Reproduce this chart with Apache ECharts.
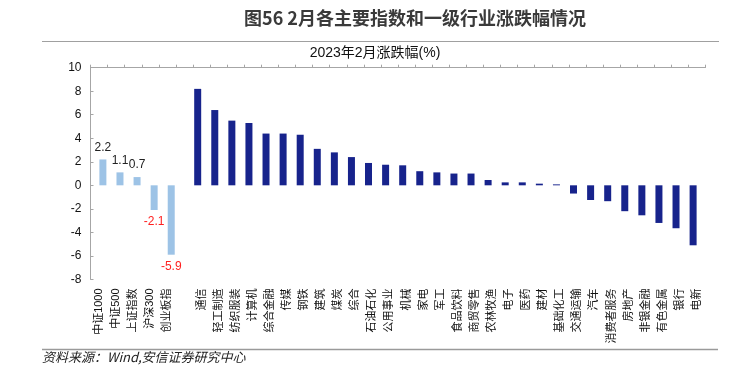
<!DOCTYPE html>
<html>
<head>
<meta charset="utf-8">
<script src="https://cdn.jsdelivr.net/npm/echarts@6/dist/echarts.min.js"></script>
<style>
html,body{margin:0;padding:0;background:#fff;}
#c{width:739px;height:381px;}
</style>
</head>
<body>
<div id="c"></div>
<script>
const indexNames = ['中证1000','中证500','上证指数','沪深300','创业板指'];
const indexValues = [2.2, 1.1, 0.7, -2.1, -5.9];
const industryNames = ['通信','轻工制造','纺织服装','计算机','综合金融','传媒','钢铁','建筑','煤炭','综合','石油石化','公用事业','机械','家电','军工','食品饮料','商贸零售','农林牧渔','电子','医药','建材','基础化工','交通运输','汽车','消费者服务','房地产','非银金融','有色金属','银行','电新'];
const industryValues = [8.2, 6.4, 5.5, 5.3, 4.4, 4.4, 4.3, 3.1, 2.8, 2.4, 1.9, 1.75, 1.7, 1.2, 1.1, 1.0, 1.0, 0.45, 0.25, 0.25, 0.14, 0.08, -0.7, -1.25, -1.35, -2.2, -2.55, -3.2, -3.65, -5.1];
const yTicks = {min: -8, max: 10, interval: 2};
const figTitle = '图56 2月各主要指数和一级行业涨跌幅情况';
const chartTitle = '2023年2月涨跌幅(%)';
const sourceNote = '资料来源：Wind,安信证券研究中心';

const categories = indexNames.concat(['']).concat(industryNames);
const gapCount = 1;
const idxData = indexValues.map(v => ({
  value: v,
  label: {position: v >= 0 ? 'top' : 'bottom', color: v >= 0 ? '#222' : '#FF1F1F'}
}));
for (let i = 0; i < gapCount + industryNames.length; i++) idxData.push(null);
const indData = [];
for (let i = 0; i < indexNames.length + gapCount; i++) indData.push(null);
industryValues.forEach(v => indData.push(v));

const chart = echarts.init(document.getElementById('c'), null, {renderer: 'canvas'});
const FONT = 'Arial, "Liberation Sans", "Noto Sans CJK SC", sans-serif';
chart.setOption({
  animation: false,
  backgroundColor: '#fff',
  grid: {left: 90.5, right: 33.5, top: 67.7, bottom: 101.6},
  graphic: [
    {type: 'text', style: {text: figTitle, x: 415, y: 18, textAlign: 'center', textVerticalAlign: 'middle', font: 'bold 18px "Noto Sans CJK SC"', fill: '#3a3a3a'}},
    {type: 'line', shape: {x1: 42, y1: 41.5, x2: 719, y2: 41.5}, style: {stroke: '#A0A0A0', lineWidth: 1}},
    {type: 'text', style: {text: chartTitle, x: 375, y: 53, textAlign: 'center', textVerticalAlign: 'middle', font: '14px "Liberation Sans", "Noto Sans CJK SC"', fill: '#111'}},
    {type: 'line', shape: {x1: 42, y1: 349.5, x2: 718, y2: 349.5}, style: {stroke: '#9A9A9A', lineWidth: 1.5}},
    {type: 'text', style: {text: sourceNote, x: 42, y: 357, textAlign: 'left', textVerticalAlign: 'middle', font: 'italic 13px "Noto Sans CJK SC"', fill: '#222'}}
  ],
  xAxis: [
    {
      type: 'category', data: categories, position: 'bottom',
      axisLine: {show: false}, axisTick: {show: false},
      axisLabel: {interval: 0, rotate: 90, margin: 9, fontSize: 11, color: '#111', fontFamily: FONT}
    },
    {
      type: 'category', data: categories, position: 'top',
      axisLine: {show: true, onZero: true, lineStyle: {color: '#A6A6A6', width: 1}},
      axisTick: {show: true, interval: 0, length: 3, lineStyle: {color: '#A6A6A6'}},
      axisLabel: {show: false}, splitLine: {show: false}
    }
  ],
  yAxis: {
    type: 'value', min: yTicks.min, max: yTicks.max, interval: yTicks.interval,
    axisLine: {show: true, lineStyle: {color: '#A6A6A6'}},
    axisTick: {show: true, inside: true, length: 3, lineStyle: {color: '#A6A6A6'}},
    axisLabel: {fontSize: 12, color: '#111', margin: 9, fontFamily: FONT},
    splitLine: {show: false}
  },
  series: [
    {
      name: '行业', type: 'bar', xAxisIndex: 0, data: indData,
      barWidth: 7, barGap: '10%',
      itemStyle: {color: '#17238C'}
    },
    {
      name: '指数', type: 'bar', xAxisIndex: 0, data: idxData,
      barWidth: 7, barGap: '10%',
      itemStyle: {color: '#9DC3E6'},
      label: {show: true, fontSize: 12, distance: 6, fontFamily: FONT, formatter: p => p.value.toFixed(1)}
    }
  ]
});
</script>
</body>
</html>
